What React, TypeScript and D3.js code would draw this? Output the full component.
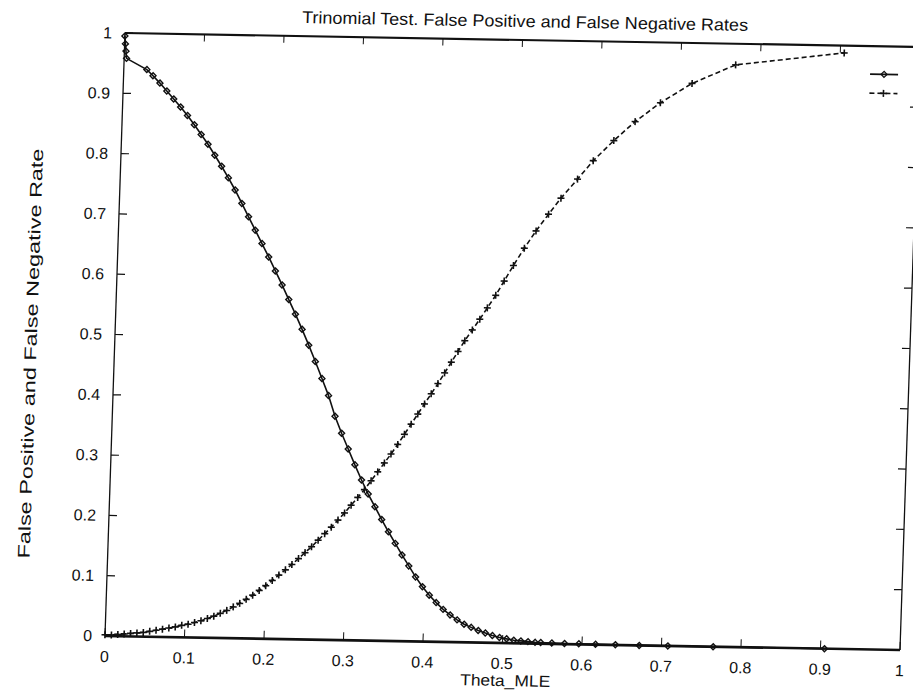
import React from "react";
import * as d3 from "d3";

// ---- data ----
// series 1: solid line, diamond markers (decreasing)
const S1_THETA = [
  0.0, 0.001, 0.002, 0.003, 0.029, 0.037, 0.046, 0.055, 0.064, 0.073, 0.082, 0.091,
  0.1, 0.109, 0.118, 0.127, 0.136, 0.145, 0.154, 0.163, 0.172, 0.181, 0.19, 0.199,
  0.208, 0.217, 0.226, 0.235, 0.244, 0.253, 0.262, 0.271, 0.28, 0.289, 0.298, 0.307,
  0.316, 0.325, 0.334, 0.343, 0.352, 0.361, 0.37, 0.379, 0.388, 0.397, 0.406, 0.415,
  0.424, 0.433, 0.442, 0.451, 0.46, 0.469, 0.478, 0.487, 0.496, 0.505, 0.514, 0.523,
  0.532, 0.541, 0.548, 0.562, 0.578, 0.596, 0.617, 0.642, 0.672, 0.708, 0.765, 0.905,
];
const S1_RATE = [
  0.995, 0.982, 0.97, 0.958, 0.94, 0.93, 0.918, 0.905, 0.892, 0.879, 0.865, 0.85,
  0.834, 0.818, 0.8, 0.782, 0.763, 0.743, 0.721, 0.699, 0.677, 0.655, 0.633, 0.61,
  0.587, 0.563, 0.539, 0.514, 0.488, 0.461, 0.433, 0.405, 0.371, 0.343, 0.317, 0.291,
  0.266, 0.243, 0.222, 0.201, 0.181, 0.162, 0.143, 0.125, 0.107, 0.091, 0.077, 0.065,
  0.054, 0.045, 0.037, 0.03, 0.025, 0.02, 0.016, 0.012, 0.009, 0.007, 0.005, 0.004,
  0.003, 0.002, 0.002, 0.0015, 0.001, 0.001, 0.0005, 0.0005, 0, 0, 0, 0,
];
// series 2: dashed line, plus markers (increasing)
const S2_THETA = [
  0.0, 0.008, 0.016, 0.024, 0.032, 0.04, 0.048, 0.056, 0.064, 0.072, 0.08, 0.088,
  0.096, 0.104, 0.112, 0.12, 0.128, 0.136, 0.144, 0.152, 0.16, 0.168, 0.176, 0.184,
  0.192, 0.2, 0.208, 0.216, 0.224, 0.232, 0.24, 0.248, 0.256, 0.264, 0.272, 0.28,
  0.288, 0.296, 0.304, 0.312, 0.32, 0.328, 0.336, 0.344, 0.352, 0.36, 0.368, 0.376,
  0.384, 0.392, 0.4, 0.408, 0.416, 0.424, 0.432, 0.44, 0.449, 0.458, 0.467, 0.477,
  0.487, 0.498, 0.511, 0.525, 0.54, 0.555, 0.575, 0.594, 0.619, 0.645, 0.676, 0.715,
  0.769, 0.905,
];
const S2_RATE = [
  0.002, 0.002, 0.003, 0.004, 0.005, 0.006, 0.007, 0.009, 0.011, 0.013, 0.015, 0.017,
  0.02, 0.022, 0.025, 0.028, 0.032, 0.036, 0.041, 0.046, 0.052, 0.058, 0.065, 0.072,
  0.08, 0.088, 0.097, 0.106, 0.115, 0.124, 0.134, 0.144, 0.154, 0.165, 0.176, 0.187,
  0.199, 0.211, 0.224, 0.237, 0.25, 0.265, 0.28, 0.295, 0.31, 0.326, 0.343, 0.36,
  0.377, 0.394, 0.411, 0.428, 0.446, 0.464, 0.482, 0.5, 0.518, 0.536, 0.555, 0.576,
  0.6, 0.626, 0.655, 0.684, 0.712, 0.739, 0.771, 0.802, 0.836, 0.868, 0.9, 0.933,
  0.965, 0.988,
];

const X_TICKS = [0, 0.1, 0.2, 0.3, 0.4, 0.5, 0.6, 0.7, 0.8, 0.9, 1];
const X_TICK_LABELS = ["0", "0.1", "0.2", "0.3", "0.4", "0.5", "0.6", "0.7", "0.8", "0.9", "1"];
const Y_TICKS = [0, 0.1, 0.2, 0.3, 0.4, 0.5, 0.6, 0.7, 0.8, 0.9, 1];
const Y_TICK_LABELS = ["0", "0.1", "0.2", "0.3", "0.4", "0.5", "0.6", "0.7", "0.8", "0.9", "1"];

const TITLE = "Trinomial Test. False Positive and False Negative Rates";
const X_TITLE = "Theta_MLE";
const Y_TITLE = "False Positive and False Negative Rate";

// ---- layout ----
const WIDTH = 913;
const HEIGHT = 696;
const PW = 795;
const PH = 603;
const FONT = "'Liberation Sans', Arial, Helvetica, sans-serif";
const INK = "#111";

export default function App() {
  const x = d3.scaleLinear().domain([0, 1]).range([0, PW]);
  const y = d3.scaleLinear().domain([0, 1]).range([PH, 0]);

  const s1 = S1_THETA.map((t, i) => [t, S1_RATE[i]] as [number, number]);
  const s2 = S2_THETA.map((t, i) => [t, S2_RATE[i]] as [number, number]);
  const line = d3
    .line<[number, number]>()
    .x((d) => x(d[0]))
    .y((d) => y(d[1]));

  const diamond = "M0,-3L3,0L0,3L-3,0Z";
  const plus = "M-3.5,0H3.5M0,-3.5V3.5";

  return (
    <svg
      width={WIDTH}
      height={HEIGHT}
      style={{ position: "absolute", left: 0, top: 0, background: "#fff" }}
      fontFamily={FONT}
    >
      <rect width={WIDTH} height={HEIGHT} fill="#fff" />
      <g transform="matrix(1,0.0176,-0.0332,1,125,33)">
        {/* title */}
        <text
          x={x(0.5) + 2}
          y={-13}
          textAnchor="middle"
          fontSize={17}
          fill={INK}
          textLength={446}
          lengthAdjust="spacingAndGlyphs"
        >
          {TITLE}
        </text>

        {/* frame */}
        <line x1={0} y1={0} x2={PW} y2={0} stroke={INK} strokeWidth={2.2} />
        <line x1={0} y1={PH} x2={PW} y2={PH} stroke={INK} strokeWidth={2.6} />
        <line x1={0} y1={0} x2={0} y2={PH} stroke={INK} strokeWidth={1.3} />
        <line x1={PW} y1={0} x2={PW} y2={PH} stroke={INK} strokeWidth={1.3} />

        {/* x ticks */}
        {X_TICKS.map((t, i) => (
          <g key={"xt" + i}>
            <line x1={x(t)} x2={x(t)} y1={PH} y2={PH - 8} stroke={INK} strokeWidth={1} />
            <line x1={x(t)} x2={x(t)} y1={0} y2={7} stroke={INK} strokeWidth={1} />
            <text x={x(t)} y={PH + 26} textAnchor="middle" fontSize={16} fill={INK}>
              {X_TICK_LABELS[i]}
            </text>
          </g>
        ))}

        {/* y ticks */}
        {Y_TICKS.map((t, i) => (
          <g key={"yt" + i}>
            <line x1={0} x2={8} y1={y(t)} y2={y(t)} stroke={INK} strokeWidth={1.2} />
            <line x1={PW} x2={PW - 8} y1={y(t)} y2={y(t)} stroke={INK} strokeWidth={1.2} />
            <text x={-13} y={y(t) + 5.5} textAnchor="end" fontSize={16} fill={INK}>
              {Y_TICK_LABELS[i]}
            </text>
          </g>
        ))}

        {/* axis titles */}
        <text
          x={x(0.505)}
          y={PH + 43}
          textAnchor="middle"
          fontSize={16}
          fill={INK}
          textLength={90}
          lengthAdjust="spacingAndGlyphs"
        >
          {X_TITLE}
        </text>
        <text
          transform={`translate(-78,${y(0.466)}) rotate(-90)`}
          textAnchor="middle"
          fontSize={17}
          fill={INK}
          textLength={410}
          lengthAdjust="spacingAndGlyphs"
        >
          {Y_TITLE}
        </text>

        {/* series 1: solid + diamonds */}
        <path d={line(s1) || ""} fill="none" stroke={INK} strokeWidth={1.6} />
        {s1.map((d, i) => (
          <path
            key={"m1" + i}
            d={diamond}
            transform={`translate(${x(d[0])},${y(d[1])})`}
            fill="none"
            stroke={INK}
            strokeWidth={1.4}
          />
        ))}

        {/* series 2: dashed + plus */}
        <path
          d={line(s2) || ""}
          fill="none"
          stroke={INK}
          strokeWidth={1.6}
          strokeDasharray="5,3"
        />
        {s2.map((d, i) => (
          <path
            key={"m2" + i}
            d={plus}
            transform={`translate(${x(d[0])},${y(d[1])})`}
            fill="none"
            stroke={INK}
            strokeWidth={1.6}
          />
        ))}

        {/* legend (no titles) */}
        <line x1={746} x2={774} y1={28} y2={28} stroke={INK} strokeWidth={1.6} />
        <path d={diamond} transform="translate(760,28)" fill="none" stroke={INK} strokeWidth={1.3} />
        <line
          x1={746}
          x2={774}
          y1={47}
          y2={47}
          stroke={INK}
          strokeWidth={1.6}
          strokeDasharray="5,3"
        />
        <path d={plus} transform="translate(760,47)" fill="none" stroke={INK} strokeWidth={1.6} />
      </g>
    </svg>
  );
}
